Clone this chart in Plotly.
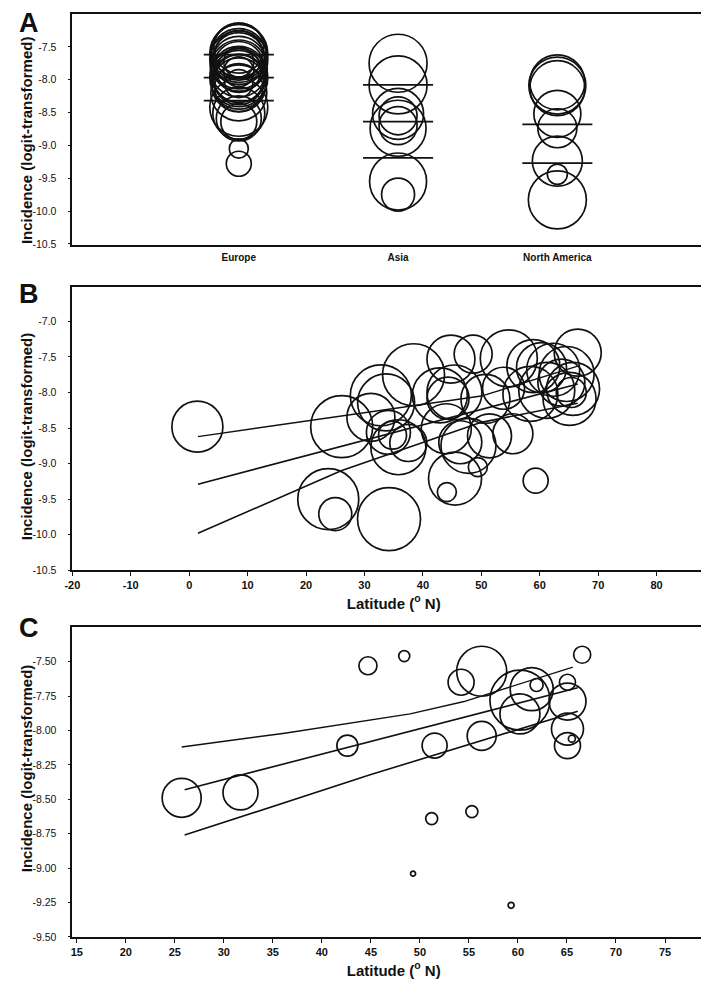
import plotly.graph_objects as go

# ---------------- Panel A: incidence by region ----------------
regions = ["Europe", "Asia", "North America"]
europe_inc = [-7.52, -7.55, -7.58, -7.60, -7.62, -7.65, -7.68, -7.70, -7.73, -7.76,
              -7.80, -7.83, -7.86, -7.88, -7.92, -7.95, -7.97, -8.00, -8.03, -8.06,
              -8.08, -8.12, -8.20, -8.42, -8.51, -8.59, -8.64, -9.05, -9.28]
europe_w = [50, 54, 56, 58, 48, 56, 52, 58, 30, 55,
            50, 57, 44, 30, 56, 52, 58, 50, 55, 28,
            54, 48, 56, 58, 52, 45, 36, 19, 25]
asia_inc = [-7.75, -8.08, -8.52, -8.55, -8.70, -8.74, -9.55, -9.75]
asia_w = [58, 58, 51, 38, 38, 56, 57, 33]
na_inc = [-8.04, -8.09, -8.13, -8.52, -8.74, -9.24, -9.44, -9.83]
na_w = [55, 57, 55, 47, 39, 50, 20, 58]
europe_lines = [-7.62, -7.97, -8.32]
asia_lines = [-8.08, -8.64, -9.19]
na_lines = [-8.68, -9.27]
a_yticks = [-10.5, -10.0, -9.5, -9.0, -8.5, -8.0, -7.5]

# ---------------- Panel B: all studies vs latitude ----------------
b_lat = [1.4, 26.1, 23.8, 25.0, 34.2, 32.8, 33.7, 31.1, 38.4, 34.1,
         34.8, 35.8, 37.5, 44.8, 48.6, 54.7, 58.9, 66.5, 60.3, 62.3,
         64.6, 65.7, 65.1, 65.4, 58.4, 61.2, 63.7, 42.9, 45.4, 44.3,
         50.7, 53.8, 44.0, 46.4, 47.8, 51.4, 55.4, 45.5, 44.1, 49.4, 59.3]
b_inc = [-8.48, -8.48, -9.50, -9.71, -9.78, -8.04, -8.14, -8.35, -7.75, -8.56,
         -8.60, -8.77, -8.71, -7.53, -7.46, -7.52, -7.63, -7.44, -7.65, -7.68,
         -7.74, -7.95, -8.09, -8.00, -8.02, -7.97, -7.86, -8.04, -8.00, -8.08,
         -8.09, -7.94, -8.51, -8.70, -8.75, -8.61, -8.58, -9.21, -9.40, -9.05, -9.24]
b_w = [51, 62, 61, 33, 63, 61, 57, 48, 62, 44,
       28, 55, 37, 48, 38, 57, 53, 47, 50, 53,
       55, 53, 53, 30, 55, 56, 47, 55, 55, 42,
       49, 42, 50, 43, 55, 44, 40, 53, 19, 19, 25]
b_upper_lat = [1.5, 26.0, 50.0, 66.5]
b_upper = [-8.62, -8.33, -8.05, -7.63]
b_fit_lat = [1.5, 66.5]
b_fit = [-9.29, -7.88]
b_lower_lat = [1.5, 26.0, 50.0, 66.5]
b_lower = [-9.98, -9.10, -8.42, -8.15]
b_xticks = list(range(-20, 81, 10))
b_yticks = [-10.5, -10.0, -9.5, -9.0, -8.5, -8.0, -7.5, -7.0]

# ---------------- Panel C: subset vs latitude ----------------
c_lat = [25.7, 31.7, 42.6, 44.7, 48.4, 51.5, 56.3, 54.2, 56.3, 60.2,
         61.4, 60.2, 61.9, 65.05, 65.05, 65.05, 65.05, 65.5, 66.55, 55.3,
         51.2, 49.3, 59.3]
c_inc = [-8.49, -8.45, -8.11, -7.53, -7.46, -8.11, -7.57, -7.65, -8.04, -7.78,
         -7.70, -7.88, -7.67, -7.65, -7.79, -7.99, -8.11, -8.06, -7.45, -8.59,
         -8.64, -9.04, -9.27]
c_w = [39, 35, 21, 18, 11, 25, 50, 26, 29, 60,
       43, 40, 13, 16, 37, 32, 26, 7, 17, 12,
       12, 5, 6]
c_upper_lat = [25.7, 36.2, 49.0, 54.5, 65.6]
c_upper = [-8.12, -8.02, -7.88, -7.79, -7.54]
c_fit_lat = [26.0, 66.1]
c_fit = [-8.43, -7.69]
c_lower_lat = [26.0, 45.0, 66.1]
c_lower = [-8.76, -8.32, -7.86]
c_xticks = list(range(15, 76, 5))
c_yticks = [-9.5, -9.25, -9.0, -8.75, -8.5, -8.25, -8.0, -7.75, -7.5]

# ---------------- styling ----------------
W, H = 709, 982
INK = "#111111"
NARROW = "Liberation Sans Narrow, Liberation Sans, Arial, sans-serif"
BOLD = "Liberation Sans, Arial, Helvetica, sans-serif"
SIZE_SCALE = 1.0
CIRC_LW = 1.7
SEG_HALF = 0.22


def circles(x, y, w, xa, ya):
    return go.Scatter(
        x=x, y=y, xaxis=xa, yaxis=ya, mode="markers", hoverinfo="x+y",
        marker=dict(symbol="circle-open", size=[v * SIZE_SCALE for v in w],
                    color=INK, opacity=1, line=dict(width=CIRC_LW, color=INK)),
        showlegend=False)


def line(x, y, xa, ya, width=1.5):
    return go.Scatter(x=x, y=y, xaxis=xa, yaxis=ya, mode="lines",
                      line=dict(color=INK, width=width), hoverinfo="skip",
                      showlegend=False)


fig = go.Figure()

# Panel A
groups = [(europe_inc, europe_w, europe_lines), (asia_inc, asia_w, asia_lines),
          (na_inc, na_w, na_lines)]
for i, (vals, wts, lvals) in enumerate(groups):
    pos = i + 1
    fig.add_trace(circles([pos] * len(vals), vals, wts, "x", "y"))
    for lv in lvals:
        fig.add_trace(line([pos - SEG_HALF, pos + SEG_HALF], [lv, lv], "x", "y", 1.7))

# Panel B
fig.add_trace(circles(b_lat, b_inc, b_w, "x2", "y2"))
fig.add_trace(line(b_upper_lat, b_upper, "x2", "y2", 1.4))
fig.add_trace(line(b_fit_lat, b_fit, "x2", "y2", 1.6))
fig.add_trace(line(b_lower_lat, b_lower, "x2", "y2", 1.6))

# Panel C
fig.add_trace(circles(c_lat, c_inc, c_w, "x3", "y3"))
fig.add_trace(line(c_upper_lat, c_upper, "x3", "y3", 1.4))
fig.add_trace(line(c_fit_lat, c_fit, "x3", "y3", 1.6))
fig.add_trace(line(c_lower_lat, c_lower, "x3", "y3", 1.6))


def px_x(p):
    return p / W


def px_y(p):
    return 1 - p / H


def labels(vals, fmt):
    return [format(v, fmt) for v in vals]


XDOM = [px_x(57), px_x(707)]
frame = dict(showline=True, mirror=True, linecolor=INK, linewidth=1.7,
             showgrid=False, zeroline=False)
ytick_font = dict(family=NARROW, size=10.5, color=INK)
xtick_font = dict(family=NARROW, size=11, color=INK, weight="bold")
xtitle_font = dict(family=NARROW, size=15, color=INK, weight="bold")

fig.update_layout(
    width=W, height=H, margin=dict(l=0, r=0, t=0, b=0),
    paper_bgcolor="white", plot_bgcolor="white",
    xaxis=dict(domain=XDOM, anchor="y", range=[-0.045, 3.99],
               tickvals=[1, 2, 3], ticktext=regions, ticks="",
               tickfont=dict(family=NARROW, size=10, color=INK, weight="bold"),
               ticklabelstandoff=3, **frame),
    yaxis=dict(domain=[px_y(238), px_y(6)], anchor="x", range=[-10.51, -7.0],
               tickvals=a_yticks, ticktext=labels(a_yticks, ".1f"),
               ticks="outside", ticklen=3, tickcolor=INK, tickfont=ytick_font,
               ticklabelstandoff=9, **frame),
    xaxis2=dict(domain=XDOM, anchor="y2", range=[-20, 90],
                tickvals=b_xticks, ticktext=labels(b_xticks, "d"),
                ticks="outside", ticklen=4, tickcolor=INK, tickfont=xtick_font,
                title=dict(text="Latitude (<sup>o</sup> N)", font=xtitle_font, standoff=8),
                **frame),
    yaxis2=dict(domain=[px_y(565.7), px_y(281)], anchor="x2", range=[-10.5, -6.52],
                tickvals=b_yticks, ticktext=labels(b_yticks, ".1f"),
                ticks="outside", ticklen=3, tickcolor=INK, tickfont=ytick_font,
                ticklabelstandoff=9, **frame),
    xaxis3=dict(domain=XDOM, anchor="y3", range=[14.55, 80.1],
                tickvals=c_xticks, ticktext=labels(c_xticks, "d"),
                ticks="outside", ticklen=4, tickcolor=INK, tickfont=xtick_font,
                title=dict(text="Latitude (<sup>o</sup> N)", font=xtitle_font, standoff=8),
                **frame),
    yaxis3=dict(domain=[px_y(934.7), px_y(623)], anchor="x3", range=[-9.5, -7.25],
                tickvals=c_yticks, ticktext=labels(c_yticks, ".2f"),
                ticks="outside", ticklen=3, tickcolor=INK,
                tickfont=ytick_font, ticklabelstandoff=9, **frame),
)

ytitle = "Incidence (logit-transformed)"
for yc in (133, 431, 765):
    fig.add_annotation(text=ytitle, xref="paper", yref="paper", x=px_x(10), y=px_y(yc),
                       xanchor="center", yanchor="middle", textangle=-90, showarrow=False,
                       font=dict(family=BOLD, size=15, color=INK, weight="bold"))
for letter, yc in (("A", 15), ("B", 288), ("C", 624)):
    fig.add_annotation(text=letter, xref="paper", yref="paper", x=px_x(13), y=px_y(yc),
                       xanchor="center", yanchor="middle", showarrow=False,
                       font=dict(family=BOLD, size=27, color=INK, weight="bold"))

fig.write_html("out.html")
